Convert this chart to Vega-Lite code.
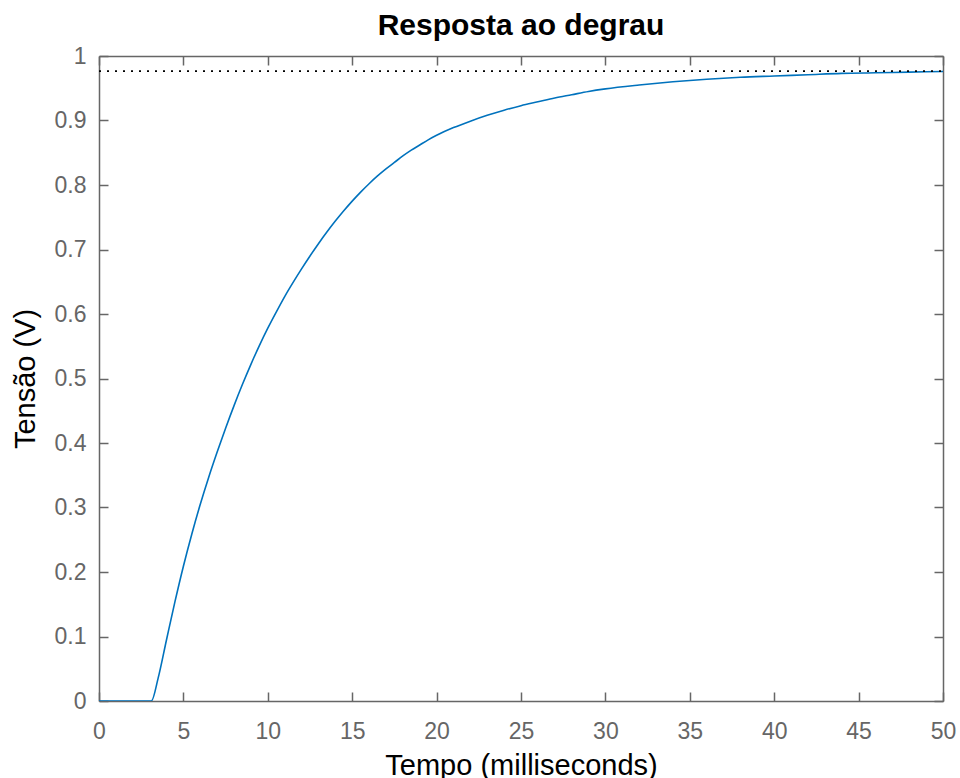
{
  "$schema": "https://vega.github.io/schema/vega-lite/v6.json",
  "width": 844,
  "height": 645,
  "autosize": {"type": "none"},
  "padding": {"left": 99, "top": 56, "right": 17, "bottom": 77},
  "background": "white",
  "title": {
    "text": "Resposta ao degrau",
    "font": "Liberation Sans",
    "fontSize": 30,
    "fontWeight": "bold",
    "color": "black",
    "offset": 4,
    "anchor": "middle"
  },
  "config": {
    "view": {"stroke": null},
    "axis": {
      "domainColor": "#666666",
      "domainWidth": 1.5,
      "tickColor": "#666666",
      "tickWidth": 1.5,
      "tickSize": -9,
      "grid": false,
      "labelFlush": false,
      "labelFont": "Liberation Sans",
      "labelFontSize": 23,
      "labelColor": "#666666",
      "titleFont": "Liberation Sans",
      "titleFontSize": 29,
      "titleFontWeight": "normal",
      "titleColor": "black"
    }
  },
  "datasets": {
    "resposta": [
      {"t": 0, "v": 0},
      {"t": 3.1, "v": 0},
      {"t": 3.5, "v": 0.035},
      {"t": 4.0, "v": 0.095},
      {"t": 4.5, "v": 0.154},
      {"t": 5.0, "v": 0.209},
      {"t": 5.5, "v": 0.259},
      {"t": 6.0, "v": 0.305},
      {"t": 6.5, "v": 0.347},
      {"t": 7.0, "v": 0.386},
      {"t": 7.5, "v": 0.423},
      {"t": 8.0, "v": 0.458},
      {"t": 8.5, "v": 0.491},
      {"t": 9.0, "v": 0.522},
      {"t": 9.5, "v": 0.551},
      {"t": 10.0, "v": 0.578},
      {"t": 10.5, "v": 0.603},
      {"t": 11.0, "v": 0.627},
      {"t": 11.5, "v": 0.649},
      {"t": 12.0, "v": 0.670},
      {"t": 12.5, "v": 0.690},
      {"t": 13.0, "v": 0.709},
      {"t": 13.5, "v": 0.727},
      {"t": 14.0, "v": 0.744},
      {"t": 14.5, "v": 0.760},
      {"t": 15.0, "v": 0.775},
      {"t": 15.5, "v": 0.789},
      {"t": 16.0, "v": 0.802},
      {"t": 16.5, "v": 0.814},
      {"t": 17.0, "v": 0.825},
      {"t": 17.5, "v": 0.835},
      {"t": 18.0, "v": 0.845},
      {"t": 18.5, "v": 0.854},
      {"t": 19.0, "v": 0.862},
      {"t": 19.5, "v": 0.870},
      {"t": 20.0, "v": 0.877},
      {"t": 21.0, "v": 0.889},
      {"t": 22.0, "v": 0.899},
      {"t": 23.0, "v": 0.908},
      {"t": 24.0, "v": 0.916},
      {"t": 25.0, "v": 0.923},
      {"t": 26.0, "v": 0.929},
      {"t": 27.0, "v": 0.935},
      {"t": 28.0, "v": 0.940},
      {"t": 29.0, "v": 0.945},
      {"t": 30.0, "v": 0.949},
      {"t": 32.0, "v": 0.955},
      {"t": 34.0, "v": 0.960},
      {"t": 36.0, "v": 0.964},
      {"t": 38.0, "v": 0.967},
      {"t": 40.0, "v": 0.969},
      {"t": 42.0, "v": 0.971},
      {"t": 44.0, "v": 0.973},
      {"t": 46.0, "v": 0.974},
      {"t": 48.0, "v": 0.975},
      {"t": 50.0, "v": 0.976}
    ],
    "regime": [
      {"t0": 0, "t1": 50, "v": 0.9765}
    ]
  },
  "layer": [
    {
      "data": {"name": "resposta"},
      "mark": {"type": "line", "color": "#0072BD", "strokeWidth": 1.6, "clip": true, "interpolate": "monotone"},
      "encoding": {
        "x": {
          "field": "t",
          "type": "quantitative",
          "scale": {"domain": [0, 50], "nice": false},
          "axis": {
            "title": "Tempo (milliseconds)",
            "values": [0, 5, 10, 15, 20, 25, 30, 35, 40, 45, 50],
            "labelPadding": 28,
            "titlePadding": 8
          }
        },
        "y": {
          "field": "v",
          "type": "quantitative",
          "scale": {"domain": [0, 1], "nice": false},
          "axis": {
            "title": "Tensão (V)",
            "values": [0, 0.1, 0.2, 0.3, 0.4, 0.5, 0.6, 0.7, 0.8, 0.9, 1],
            "format": ".1~f",
            "labelPadding": 22,
            "titlePadding": 14
          }
        }
      }
    },
    {
      "data": {"name": "regime"},
      "mark": {"type": "rule", "color": "black", "strokeWidth": 1.6, "strokeDash": [2, 6]},
      "encoding": {
        "x": {"field": "t0", "type": "quantitative", "axis": {"title": null, "labels": false, "values": [0, 5, 10, 15, 20, 25, 30, 35, 40, 45, 50]}},
        "x2": {"field": "t1"},
        "y": {"field": "v", "type": "quantitative", "axis": {"title": null, "labels": false, "values": [0, 0.1, 0.2, 0.3, 0.4, 0.5, 0.6, 0.7, 0.8, 0.9, 1]}}
      }
    }
  ],
  "resolve": {"axis": {"x": "independent", "y": "independent"}}
}
